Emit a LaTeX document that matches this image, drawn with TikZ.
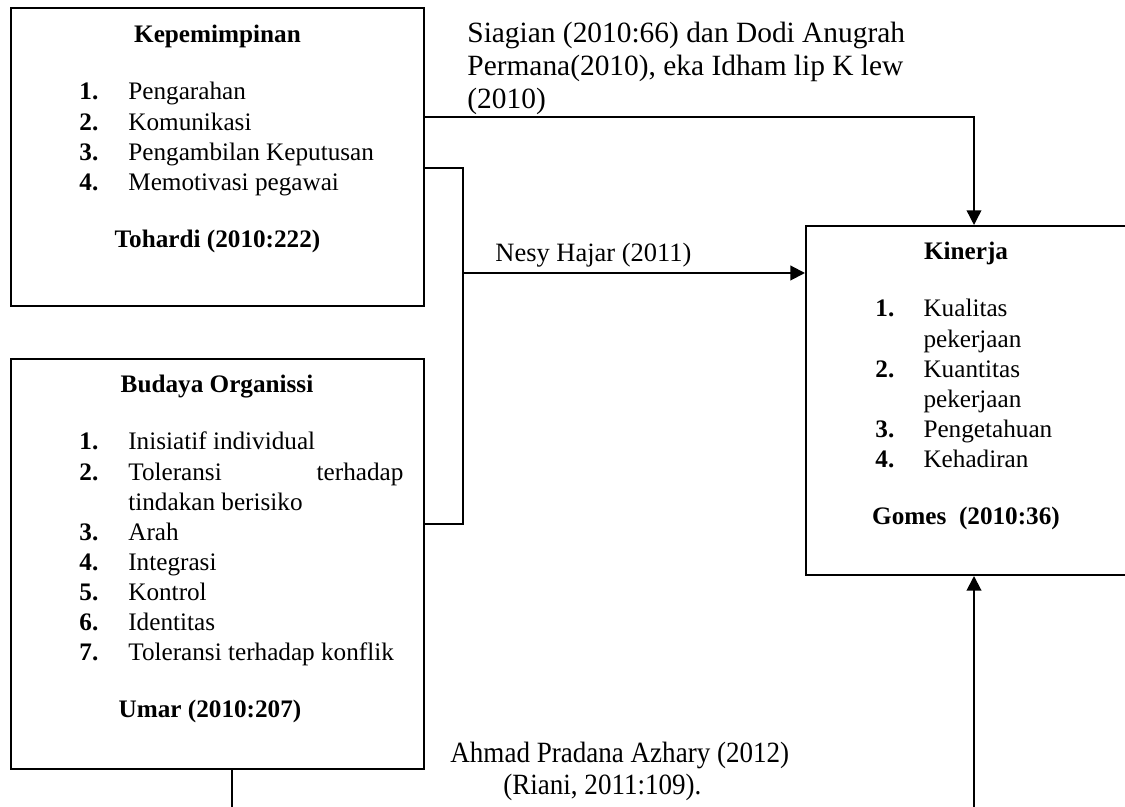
\documentclass[tikz,border=0pt]{standalone}
\usepackage{fontspec}
\setmainfont{Liberation Serif}
\usepackage{graphicx}
\usepackage{tikz}
\usetikzlibrary{arrows.meta,positioning,calc}

\begin{document}
\begin{tikzpicture}[x=0.4762pt, y=-0.4762pt, every node/.style={font=\fontsize{12}{14.3}\selectfont, inner sep=0pt}, box/.style={draw, line width=0.95pt, minimum width=196.7pt}, ttl/.style={font=\fontsize{12}{14.3}\selectfont\bfseries, anchor=base}, lst/.style={anchor=base west}, cite/.style={font=\fontsize{14}{15.5}\selectfont, anchor=base west}, ln/.style={line width=0.7pt}, arr/.style={line width=0.95pt, -{Triangle[length=7pt,width=7pt]}}]
\useasboundingbox (0,0) rectangle (1125,807);

% kepemimpinan
\node[box, minimum height=141.9pt] (kep) at (217.5,157) {};
\node[ttl] (kep-t) at (217.5,43) {Kepemimpinan};
\node[lst] (kep-l) at (79,100) {\begin{tabular}[t]{@{}p{23.3pt}@{}l@{}}
\textbf{1.} & Pengarahan\\
\textbf{2.} & Komunikasi\\
\textbf{3.} & Pengambilan Keputusan\\
\textbf{4.} & Memotivasi pegawai
\end{tabular}};
\node[ttl] (kep-c) at (217.5,248) {Tohardi (2010:222)};

% budaya organisasi
\node[box, minimum height=195.2pt] (bud) at (217.5,564) {};
\node[ttl] (bud-t) at (217,393) {Budaya Organissi};
\node[lst] (bud-l) at (79,450) {\begin{tabular}[t]{@{}p{23.3pt}@{}l@{}}
\textbf{1.} & Inisiatif individual\\
\textbf{2.} & \makebox[131pt][s]{Toleransi terhadap}\\
 & tindakan berisiko\\
\textbf{3.} & Arah\\
\textbf{4.} & Integrasi\\
\textbf{5.} & Kontrol\\
\textbf{6.} & Identitas\\
\textbf{7.} & Toleransi terhadap konflik
\end{tabular}};
\node[ttl] (bud-c) at (210,718) {Umar (2010:207)};

% kinerja
\node[box, minimum width=160pt, minimum height=166.2pt] (kin) at (974,400.5) {};
\node[ttl] (kin-t) at (966,260) {Kinerja};
\node[lst] (kin-l) at (875,317) {\begin{tabular}[t]{@{}p{22.9pt}@{}l@{}}
\textbf{1.} & Kualitas\\
 & pekerjaan\\
\textbf{2.} & Kuantitas\\
 & pekerjaan\\
\textbf{3.} & Pengetahuan\\
\textbf{4.} & Kehadiran
\end{tabular}};
\node[ttl] (kin-c) at (966,525) {Gomes\ \ (2010:36)};

% sumber
\node[cite] (sia) at (467,43) {\begin{tabular}[t]{@{}l@{}}
Siagian (2010:66) dan Dodi Anugrah\\
Permana(2010), eka Idham lip K lew\\
(2010)
\end{tabular}};
\node[cite, font=\fontsize{12.6}{15}\selectfont] (nesy) at (495,262) {Nesy Hajar (2011)};
\node[cite, font=\fontsize{14}{15.2}\selectfont] (ahm) at (450,763) {\scalebox{0.92}[1]{\begin{tabular}[t]{@{}l@{}}
Ahmad Pradana Azhary (2012)\\
\hspace*{27.4pt}(Riani, 2011:109).
\end{tabular}}};

\coordinate (jn) at (463,273);
\coordinate (bl) at (232,812);
\coordinate (br) at (974,812);

\draw[arr, line width=0.7pt] ([yshift=19pt]kep.east) -| (kin.north);
\draw[ln] ([yshift=-5.2pt]kep.east) -| (jn) |- ([yshift=19pt]bud.east);
\draw[arr] (jn) -- (jn -| kin.west);
\draw[ln] (bl |- bud.south) -- (bl);
\draw[arr] (br) -- (kin.south);
\end{tikzpicture}
\end{document}
